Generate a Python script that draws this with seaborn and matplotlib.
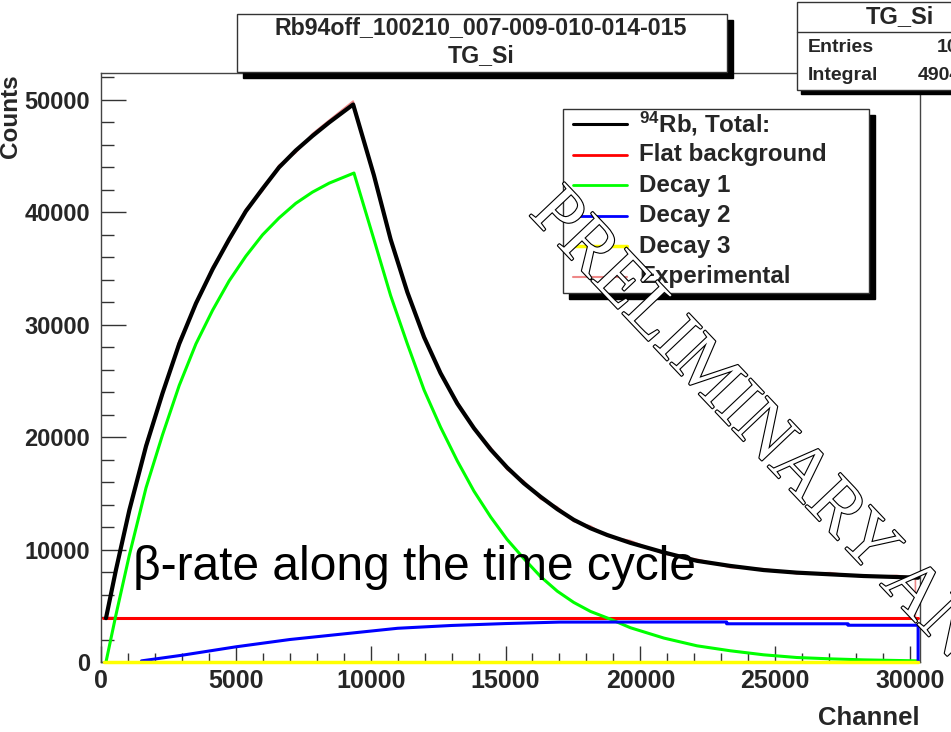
import matplotlib
matplotlib.use("Agg")
import matplotlib.pyplot as plt
import matplotlib.patheffects as pe
from matplotlib.patches import Rectangle
from matplotlib.lines import Line2D
import seaborn as sns

# ---------------- data ----------------
total_ch = [185, 555, 1050, 1670, 2280, 2900, 3520, 4140, 4750, 5370, 5990, 6600, 7220, 7840, 8460, 9350,
            10120, 10740, 11360, 11980, 12590, 13210, 13830, 14450, 15060, 15680, 16300, 16920, 17530, 18150,
            18770, 19630, 20870, 22100, 23330, 24570, 25800, 27040, 28270, 29510, 30300]
total_val = [3900, 8200, 13500, 19200, 23900, 28300, 31900, 34950, 37600, 40100, 42100, 44000, 45500, 46800, 48000, 49600,
             43300, 37600, 32900, 28900, 25700, 23000, 20800, 18900, 17300, 15900, 14700, 13600, 12650, 11900,
             11300, 10600, 9750, 9000, 8550, 8180, 7950, 7800, 7650, 7560, 7500]

decay1_ch = [185, 555, 1050, 1670, 2280, 2900, 3520, 4140, 4750, 5370, 5990, 6600, 7220, 7840, 8460, 9380,
             10120, 10740, 11360, 11980, 12590, 13210, 13830, 14450, 15060, 15680, 16300, 16920, 17530, 18150,
             18900, 19630, 20870, 22100, 23330, 24570, 25800, 27040, 28270, 30300]
decay1_val = [0, 4200, 9500, 15500, 20200, 24600, 28300, 31300, 33900, 36100, 38000, 39500, 40800, 41800, 42600, 43500,
              37600, 32600, 28300, 24200, 20900, 17900, 15200, 12900, 10900, 9200, 7600, 6300, 5300, 4500,
              3800, 3050, 2130, 1440, 1000, 640, 400, 280, 190, 100]

decay2_ch = [1500, 3000, 5000, 7000, 9400, 11000, 13000, 15000, 17000, 23200, 23200, 27700, 27700, 30300, 30300]
decay2_val = [100, 600, 1350, 2000, 2600, 3000, 3250, 3420, 3550, 3560, 3400, 3400, 3270, 3270, 0]

decay3_ch = [100, 30300]
decay3_val = [0, 0]

flat_ch = [75, 30300]
flat_val = [3900, 3900]

exp_ch = [185, 555, 1050, 1670, 2280, 2900, 3520, 4140, 4750, 5370, 5990, 6600, 7220, 7840, 8460, 9350,
          10120, 10740, 11360, 11980, 12590, 13210, 13830, 14450, 15060, 15680, 16300, 16920, 17530, 18150,
          18770, 19630, 20870, 22100, 23330, 24570, 25800, 27040, 28270, 29510, 30200, 30200]
exp_val = [3950, 8400, 13300, 19500, 23700, 28600, 31700, 35200, 37400, 40300, 41900, 44200, 45300, 47000, 48200, 49900,
           43100, 37800, 32700, 29100, 25600, 23200, 20700, 19100, 17100, 16100, 14500, 13800, 12500, 12100,
           11200, 10800, 9600, 9150, 8400, 8300, 7850, 7950, 7550, 7700, 7500, 4000]

xticks = [0, 5000, 10000, 15000, 20000, 25000, 30000]
yticks = [0, 10000, 20000, 30000, 40000, 50000]

legend_labels = [r"$^{94}$Rb, Total:", "Flat background", "Decay 1", "Decay 2", "Decay 3", "Experimental"]

title_lines = ["Rb94off_100210_007-009-010-014-015", "TG_Si"]
stats_title = "TG_Si"
stats_rows = [("Entries", "10"), ("Integral", "4904")]

# ---------------- style ----------------
sns.set_style("ticks")
plt.rcParams["font.family"] = ["Liberation Sans", "DejaVu Sans"]
plt.rcParams["mathtext.fontset"] = "custom"
plt.rcParams["mathtext.rm"] = "Liberation Sans:bold"
plt.rcParams["mathtext.bf"] = "Liberation Sans:bold"
plt.rcParams["mathtext.it"] = "Liberation Sans:bold"

W, H = 951, 732
fig = plt.figure(figsize=(W / 100, H / 100), dpi=100)
fig.patch.set_facecolor("white")


def fx(px):
    return px / W


def fy(py):
    return 1 - py / H


ax = fig.add_axes([fx(101), fy(662), (920 - 101) / W, (662 - 73) / H])
ax.set_facecolor("white")

RED = "#ff0000"
GREEN = "#00ff00"
BLUE = "#0000ff"
YELLOW = "#ffff00"
PINK = "#ee8888"

sns.lineplot(x=exp_ch, y=exp_val, ax=ax, color=PINK, lw=1.2, estimator=None, sort=False, zorder=2)
sns.lineplot(x=flat_ch, y=flat_val, ax=ax, color=RED, lw=2.2, estimator=None, sort=False, zorder=3)
sns.lineplot(x=decay1_ch, y=decay1_val, ax=ax, color=GREEN, lw=2.2, estimator=None, sort=False, zorder=3)
sns.lineplot(x=decay2_ch, y=decay2_val, ax=ax, color=BLUE, lw=2.2, estimator=None, sort=False, zorder=3)
sns.lineplot(x=decay3_ch, y=decay3_val, ax=ax, color=YELLOW, lw=2.5, estimator=None, sort=False, zorder=4,
             clip_on=False)
sns.lineplot(x=total_ch, y=total_val, ax=ax, color="black", lw=3.0, estimator=None, sort=False, zorder=5)

ax.set_xlim(0, 30370)
ax.set_ylim(0, 52400)
ax.set_xticks(xticks)
ax.set_yticks(yticks)
ax.set_xticklabels([str(v) for v in xticks], fontsize=18, fontweight="bold")
ax.set_yticklabels([str(v) for v in yticks], fontsize=17, fontweight="bold")
ax.set_xticks(range(0, 30001, 1000), minor=True)
ax.set_yticks(range(0, 52001, 2000), minor=True)
ax.tick_params(axis="x", which="major", direction="in", length=11.5, width=1, pad=5, color="#333333")
ax.tick_params(axis="x", which="minor", direction="in", length=6.5, width=1, color="#333333")
ax.tick_params(axis="y", which="major", direction="in", length=18, width=1, pad=8, color="#333333")
ax.tick_params(axis="y", which="minor", direction="in", length=9.5, width=1, color="#333333")
ax.set_xlabel("")
ax.set_ylabel("")
for s in ax.spines.values():
    s.set_color("#444444")
    s.set_linewidth(1)

# axis titles
fig.text(fx(920), fy(718), "Channel", ha="right", va="center", fontsize=18.5, fontweight="bold")
fig.text(fx(11), fy(74), "Counts", ha="center", va="top", rotation=90, fontsize=17.5, fontweight="bold")

# annotation
fig.text(fx(133), fy(580), "\u03b2-rate along the time cycle", ha="left", va="baseline", fontsize=34.5,
         color="black", zorder=6)

# title box with shadow
fig.add_artist(Rectangle((fx(243), fy(78)), (733 - 243) / W, (78 - 20) / H, transform=fig.transFigure,
                         facecolor="black", edgecolor="black", zorder=10))
fig.add_artist(Rectangle((fx(237), fy(72)), (727 - 237) / W, (72 - 14) / H, transform=fig.transFigure,
                         facecolor="white", edgecolor="#333333", lw=1, zorder=11))
fig.text(fx(481), fy(28), title_lines[0], ha="center", va="center", fontsize=16.7, fontweight="bold", zorder=12)
fig.text(fx(481), fy(56), title_lines[1], ha="center", va="center", fontsize=16.7, fontweight="bold", zorder=12)

# stats box (cut by the right edge)
fig.add_artist(Rectangle((fx(801), fy(94)), (1010 - 801) / W, (94 - 6) / H, transform=fig.transFigure,
                         facecolor="black", edgecolor="black", zorder=10))
fig.add_artist(Rectangle((fx(797), fy(90)), (1005 - 797) / W, (90 - 2) / H, transform=fig.transFigure,
                         facecolor="white", edgecolor="#333333", lw=1, zorder=11))
fig.add_artist(Line2D([fx(797), fx(1005)], [fy(32), fy(32)], transform=fig.transFigure, color="#333333",
                      lw=1, zorder=12))
fig.text(fx(900), fy(17), stats_title, ha="center", va="center", fontsize=17, fontweight="bold", zorder=12)
fig.text(fx(808), fy(48), stats_rows[0][0], ha="left", va="center", fontsize=14, fontweight="bold", zorder=12)
fig.text(fx(937), fy(48), stats_rows[0][1], ha="left", va="center", fontsize=14, fontweight="bold", zorder=12)
fig.text(fx(808), fy(75), stats_rows[1][0], ha="left", va="center", fontsize=14, fontweight="bold", zorder=12)
fig.text(fx(918), fy(75), stats_rows[1][1], ha="left", va="center", fontsize=14, fontweight="bold", zorder=12)

# legend box with shadow
fig.add_artist(Rectangle((fx(569), fy(299)), (875 - 569) / W, (299 - 115) / H, transform=fig.transFigure,
                         facecolor="black", edgecolor="black", zorder=13))
fig.add_artist(Rectangle((fx(563), fy(293)), (869 - 563) / W, (293 - 109) / H, transform=fig.transFigure,
                         facecolor="white", edgecolor="#333333", lw=1, zorder=14))
leg_colors = ["black", RED, GREEN, BLUE, YELLOW, PINK]
leg_lw = [2.2, 2.0, 2.0, 2.0, 2.5, 1.5]
for i, (lab, col) in enumerate(zip(legend_labels, leg_colors)):
    yy = 124 + i * 30.6
    fig.add_artist(Line2D([fx(573), fx(627)], [fy(yy), fy(yy)], transform=fig.transFigure, color=col,
                          lw=leg_lw[i], zorder=15))
    fig.text(fx(639), fy(yy), lab, ha="left", va="center", fontsize=17.4, fontweight="bold", zorder=15)

# watermark
fig.text(fx(528), fy(214), "PRELIMINARY ANALYSIS", rotation=-46.5, rotation_mode="anchor", ha="left",
         va="baseline", fontsize=53, family="Liberation Serif", color="white", zorder=20,
         path_effects=[pe.withStroke(linewidth=1.6, foreground="black")])

fig.savefig("out.png", dpi=100)
